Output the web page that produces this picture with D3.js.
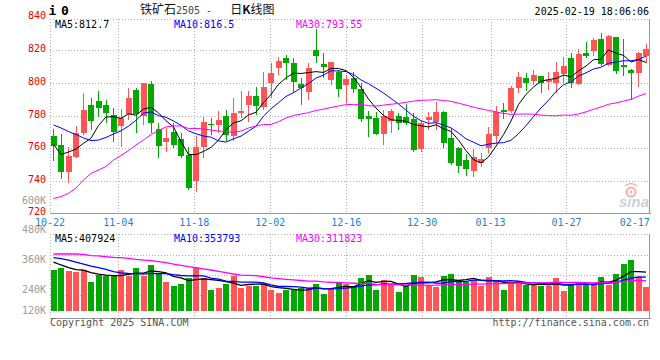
<!DOCTYPE html>
<html>
<head>
<meta charset="utf-8">
<script src="https://cdn.jsdelivr.net/npm/d3@7/dist/d3.min.js"></script>
<style>
  body { margin: 0; background: #fff; }
  svg { display: block; }
  text { font-family: "DejaVu Sans Mono", monospace; font-size: 10px; }
</style>
</head>
<body>
<div id="kline"></div>
<script>
var width = 660,
  height = 360;

// x axis: index of the candle and the label under it
var tickIdx = [0, 9, 19, 29, 39, 49, 58, 68, 77];
var tickLabels = ["10-22", "11-04", "11-18", "12-02", "12-16", "12-30", "01-13", "01-27", "02-17"];

var priceTicks = [840, 820, 800, 780, 760, 740, 720];
var volTicks = [600000, 480000, 360000, 240000, 120000];
var volTickLabels = ["600K", "480K", "360K", "240K", "120K"];

var maLabels = ["MA5:812.7", "MA10:816.5", "MA30:793.55"];
var volMaLabels = ["MA5:407924", "MA10:353793", "MA30:311823"];

// daily OHLC, 80 sessions
var open = [767.5, 762, 745.7, 754.8, 769.1, 786.4, 788.9, 786.4, 780.3, 773.6,
  780.9, 795.6, 779.9, 799.2, 771.8, 764, 770.1, 765.4, 755.9, 740,
  760.9, 774.6, 774, 779.7, 767.5, 781.3, 786.4, 791.9, 785, 799.7,
  808.8, 815.3, 811.9, 799.2, 794.5, 820, 811.3, 801.7, 806.4, 798.6,
  803.1, 796.2, 779.7, 778.7, 768.7, 776.8, 779.7, 778.9, 777.9, 759.4,
  777.3, 776.2, 782.3, 766.4, 760.3, 752.8, 746.3, 751.2, 760, 767.5,
  783.2, 783, 797, 802.7, 801.3, 804.1, 800.3, 800, 805.3, 815.3,
  799.2, 818.4, 819.6, 826.7, 810.8, 828.1, 810.8, 807.8, 806.1, 816.5];
var close = [761.6, 745.7, 755.3, 769.1, 783.4, 776.8, 784.8, 781.3, 770.1, 778.3,
  790.5, 780.9, 799.7, 775.6, 761.4, 766.4, 762, 755.3, 735.9, 761,
  776.2, 774.2, 777.3, 768.1, 781.3, 782.9, 791.9, 785.8, 797.6, 806.1,
  813.5, 811.9, 800.3, 796.6, 808.8, 816.3, 809.4, 812.9, 796.2, 802.3,
  796, 777.9, 778, 768.5, 779.7, 782.9, 775.6, 775.6, 758.9, 775.6,
  779.3, 782.3, 763.4, 750.8, 749.2, 747.1, 754.8, 753.4, 768.7, 782.3,
  782.3, 796.6, 803.3, 800, 804.7, 800, 801.7, 806.7, 810.2, 800,
  817.6, 816.5, 826.1, 811.5, 828.7, 807.4, 809.8, 806.1, 818.4, 820.6];
var high = [772, 769, 761, 773.6, 793.6, 790.5, 795.1, 789.5, 784.6, 783.8,
  796.6, 796.6, 799.7, 801, 775.2, 772.2, 775.6, 769.1, 761, 767.5,
  779.3, 778.3, 782.9, 783.4, 790.5, 795.1, 795.1, 797.6, 806.7, 811.9,
  815.5, 816.9, 814.9, 802.7, 811.9, 832.8, 818, 812.9, 807.8, 804.7,
  806.7, 799.6, 782.9, 782, 783.4, 783.8, 781.7, 787, 781.7, 776.6,
  782.3, 788.4, 782.9, 772.2, 761, 756.5, 759.4, 757.3, 772.8, 785.8,
  787.4, 798, 806.7, 806.1, 807.8, 804.1, 806.7, 812.9, 815.5, 818.4,
  820.4, 825.1, 827.1, 830.2, 829.2, 828.1, 826.5, 808.2, 819, 823.7];
var low = [752, 741, 739, 754, 768, 771, 779.3, 775.4, 764, 760.6,
  777.3, 769.1, 774.2, 769.1, 753.9, 757.9, 760, 753.9, 734.5, 733.5,
  753.9, 768, 769.1, 764.6, 764.6, 778.7, 776.2, 780.3, 783.4, 790.5,
  804.7, 801.7, 793.9, 786.4, 789.5, 811.9, 802.7, 798.6, 791.5, 787.8,
  793.6, 776.2, 767.1, 768, 762, 769.1, 771.1, 774.2, 757.9, 757.9,
  771.1, 771.1, 760, 749.8, 745.1, 743.1, 742.6, 748.7, 756.9, 763,
  777.7, 781.7, 793.6, 795.1, 798.6, 793.9, 795.6, 793.6, 799.7, 796.6,
  798.6, 814.9, 816.3, 810.2, 810.2, 805.3, 804.1, 789.5, 797.6, 812.2];

var volume = [435000, 456000, 417000, 407000, 435000, 309000, 379000, 365000, 379000, 435000,
  372000, 449000, 365000, 488000, 396000, 309000, 267000, 280000, 348000, 449000,
  348000, 225000, 246000, 280000, 365000, 238000, 267000, 267000, 285000, 225000,
  186000, 225000, 221000, 246000, 238000, 288000, 175000, 235000, 309000, 288000,
  267000, 351000, 383000, 225000, 330000, 277000, 203000, 267000, 383000, 362000,
  267000, 256000, 372000, 393000, 319000, 309000, 330000, 267000, 362000, 330000,
  225000, 301000, 301000, 277000, 267000, 267000, 267000, 351000, 214000, 285000,
  298000, 285000, 298000, 362000, 277000, 393000, 499000, 541000, 362000, 256000];

// moving averages before enough sessions are on screen
var ma5Head = [762.3, 756.2, 757.7, 759.5];
var ma10Head = [774.2, 772.4, 770.2, 768.4, 766.3, 764.7, 765, 766.6, 768.7];
var ma30Head = [729.3, 730.5, 732.4, 735.7, 740.6, 744.6, 746.7, 748.9, 752.8, 755.6,
  758.6, 762, 765, 768.4, 770.8, 773, 773.6, 773.6, 772.1, 772.1,
  771.8, 771.1, 770.5, 770.1, 769.7, 770.5, 772.4, 773.5, 774.5];
var vma5Head = [516000, 485000, 458000, 437000];
var vma10Head = [562000, 551000, 537000, 516000, 495000, 474000, 456000, 439000, 414000];
var vma30Head = [601000, 601000, 601000, 601000, 597000, 583000, 580000, 572000, 566000, 562000,
  555000, 545000, 537000, 530000, 520000, 509000, 495000, 482000, 467000, 456000,
  443000, 432000, 418000, 404000, 390000, 379000, 376000, 372000, 361000];

var UP = "#ff5555", DOWN = "#00a800";
var GRID = "#b4b4b4", FRAME = "#999";

function movingAvg(arr, n, head) {
  return arr.map(function (d, i) {
    if (i < n - 1) return head[i];
    return d3.mean(arr.slice(i - n + 1, i + 1));
  });
}

var idx = d3.range(open.length);

var x = d3.scaleBand().domain(idx).range([50, 650]);
var xg = d3.scalePoint().domain(idx).range([50, 650]);
var y = d3.scaleLinear().domain([720, 840]).range([213.75, 17.25]);
var yv = d3.scaleLinear().domain([0, 800000]).range([311, 235.1]);
// sina's volume labels sit on their own spacing, the lowest one pinned
var yvLabel = d3.scaleLinear().domain([120000, 600000]).range([320.5, 201]);

function cx(i) { return x(i) + 3.5; }

var svg = d3.select("#kline")
  .append("svg")
  .attr("width", width)
  .attr("height", height);

var grid = svg.append("g")
  .attr("stroke", GRID)
  .attr("stroke-dasharray", "1,2")
  .attr("shape-rendering", "crispEdges");

// price grid
grid.selectAll("line.h")
  .data(priceTicks.slice(1, -1))
  .enter().append("line")
  .attr("x1", 50).attr("x2", 650)
  .attr("y1", function (d) { return Math.round(y(d)) + 0.5; })
  .attr("y2", function (d) { return Math.round(y(d)) + 0.5; });
grid.append("line").attr("x1", 50).attr("x2", 650).attr("y1", 19.5).attr("y2", 19.5);
grid.append("line").attr("x1", 50.5).attr("x2", 50.5).attr("y1", 19).attr("y2", 213);

// volume grid
grid.selectAll("line.vh")
  .data([255, 275, 295])
  .enter().append("line")
  .attr("x1", 50).attr("x2", 650)
  .attr("y1", function (d) { return d + 0.5; })
  .attr("y2", function (d) { return d + 0.5; });
grid.append("line").attr("x1", 50).attr("x2", 650).attr("y1", 234.5).attr("y2", 234.5);
grid.append("line").attr("x1", 50.5).attr("x2", 50.5).attr("y1", 234).attr("y2", 318);

// vertical grid at the date ticks, both panels
tickIdx.slice(1, -1).forEach(function (i) {
  var gx = Math.round(xg(i)) + 0.5;
  grid.append("line").attr("x1", gx).attr("x2", gx).attr("y1", 19).attr("y2", 213);
  grid.append("line").attr("x1", gx).attr("x2", gx).attr("y1", 234).attr("y2", 318);
});

// solid frame edges
var frame = svg.append("g").attr("stroke", FRAME).attr("shape-rendering", "crispEdges");
frame.append("line").attr("x1", 50).attr("x2", 650.5).attr("y1", 213.5).attr("y2", 213.5);
frame.append("line").attr("x1", 649.5).attr("x2", 649.5).attr("y1", 19).attr("y2", 213.5);
frame.append("line").attr("x1", 50).attr("x2", 650.5).attr("y1", 318.5).attr("y2", 318.5);
frame.append("line").attr("x1", 649.5).attr("x2", 649.5).attr("y1", 234).attr("y2", 318.5);

// sina watermark
var logo = svg.append("g");
logo.append("circle").attr("cx", 631).attr("cy", 192).attr("r", 4.5)
  .attr("fill", "none").attr("stroke", "#f3b0b0").attr("stroke-width", 2);
logo.append("circle").attr("cx", 631).attr("cy", 192).attr("r", 1.5).attr("fill", "#f3b0b0");
logo.append("path").attr("d", "M625,186 Q631,181 637,186").attr("fill", "none")
  .attr("stroke", "#f3b0b0").attr("stroke-width", 1.5);
logo.append("text").attr("x", 619).attr("y", 207)
  .style("font-family", "Liberation Sans, Arial, sans-serif")
  .style("font-size", "15px").style("font-style", "italic").style("font-weight", "bold")
  .attr("fill", "#cfcfcf").text("sina");

// candles
var candles = svg.append("g").attr("shape-rendering", "crispEdges");
candles.selectAll("line")
  .data(idx)
  .enter().append("line")
  .attr("x1", cx).attr("x2", cx)
  .attr("y1", function (i) { return y(high[i]); })
  .attr("y2", function (i) { return y(low[i]); })
  .attr("stroke", function (i) { return close[i] >= open[i] ? UP : DOWN; });
candles.selectAll("rect")
  .data(idx)
  .enter().append("rect")
  .attr("x", function (i) { return x(i) + 0.5; })
  .attr("width", 6)
  .attr("y", function (i) { return y(Math.max(open[i], close[i])); })
  .attr("height", function (i) { return Math.max(1, Math.abs(y(open[i]) - y(close[i]))); })
  .attr("fill", function (i) { return close[i] >= open[i] ? UP : DOWN; });

// volume bars
svg.append("g").attr("shape-rendering", "crispEdges")
  .selectAll("rect")
  .data(idx)
  .enter().append("rect")
  .attr("x", function (i) { return x(i) + 0.5; })
  .attr("width", 6)
  .attr("y", function (i) { return yv(volume[i]); })
  .attr("height", function (i) { return yv(0) - yv(volume[i]); })
  .attr("fill", function (i) { return close[i] >= open[i] ? UP : DOWN; });

// moving average lines
var maColors = ["#000", "#0000ff", "#ff00ff"];
var priceMa = [movingAvg(close, 5, ma5Head), movingAvg(close, 10, ma10Head), movingAvg(close, 30, ma30Head)];
var volMa = [movingAvg(volume, 5, vma5Head), movingAvg(volume, 10, vma10Head), movingAvg(volume, 30, vma30Head)];

priceMa.forEach(function (ma, k) {
  svg.append("path")
    .attr("d", d3.line().x(cx).y(function (i) { return y(ma[i]); })(idx))
    .attr("fill", "none").attr("stroke", maColors[k]).attr("stroke-width", 1);
});
volMa.forEach(function (ma, k) {
  svg.append("path")
    .attr("d", d3.line().x(cx).y(function (i) { return yv(ma[i]); })(idx))
    .attr("fill", "none").attr("stroke", maColors[k]).attr("stroke-width", 1.3);
});

// axis labels
svg.append("g").attr("fill", "#e60000").attr("text-anchor", "end")
  .selectAll("text")
  .data(priceTicks)
  .enter().append("text")
  .attr("x", 46)
  .attr("y", function (d) { return Math.min(214.5, y(d) + 2); })
  .text(function (d) { return d; });

svg.append("g").attr("fill", "#9a9a9a").attr("text-anchor", "end")
  .selectAll("text")
  .data(volTicks)
  .enter().append("text")
  .attr("x", 46)
  .attr("y", function (d) { return Math.min(314, yvLabel(d) + 2.5); })
  .text(function (d, i) { return volTickLabels[i]; });

svg.append("g").attr("fill", "#1a86cf").attr("text-anchor", "middle")
  .selectAll("text")
  .data(tickIdx)
  .enter().append("text")
  .attr("x", function (i) { return xg(i); })
  .attr("y", 225.5)
  .text(function (d, k) { return tickLabels[k]; });

// legends
var legendX = [55, 174, 296];
maLabels.forEach(function (t, k) {
  svg.append("text").attr("x", legendX[k]).attr("y", 27.5).attr("fill", maColors[k]).text(t);
});
volMaLabels.forEach(function (t, k) {
  svg.append("text").attr("x", legendX[k]).attr("y", 242).attr("fill", maColors[k]).text(t);
});

// header
svg.append("text").attr("x", 52.5).attr("y", 15).attr("text-anchor", "middle")
  .style("font-size", "13px").style("font-weight", "bold").text("i");
svg.append("text").attr("x", 65).attr("y", 15).attr("text-anchor", "middle")
  .style("font-size", "13px").style("font-weight", "bold").text("0");

var title = svg.append("text").attr("x", 140).attr("y", 14).attr("xml:space", "preserve").attr("fill", "#111");
title.append("tspan").style("font-family", "Noto Sans CJK SC").style("font-size", "12px").text("铁矿石");
title.append("tspan").attr("fill", "#444").text("2505 -   ");
title.append("tspan").style("font-family", "Noto Sans CJK SC").style("font-size", "12px").text("日");
title.append("tspan").style("font-family", "Noto Sans CJK SC").style("font-size", "12px").style("font-weight", "bold").text("K");
title.append("tspan").style("font-family", "Noto Sans CJK SC").style("font-size", "12px").text("线图");

svg.append("text").attr("x", 649).attr("y", 15).attr("text-anchor", "end")
  .text("2025-02-19 18:06:06");

// footer
svg.append("text").attr("x", 50).attr("y", 326).attr("fill", "#555").text("Copyright 2025 SINA.COM");
svg.append("text").attr("x", 649).attr("y", 326).attr("fill", "#555").attr("text-anchor", "end")
  .text("http://finance.sina.com.cn");
</script>
</body>
</html>
